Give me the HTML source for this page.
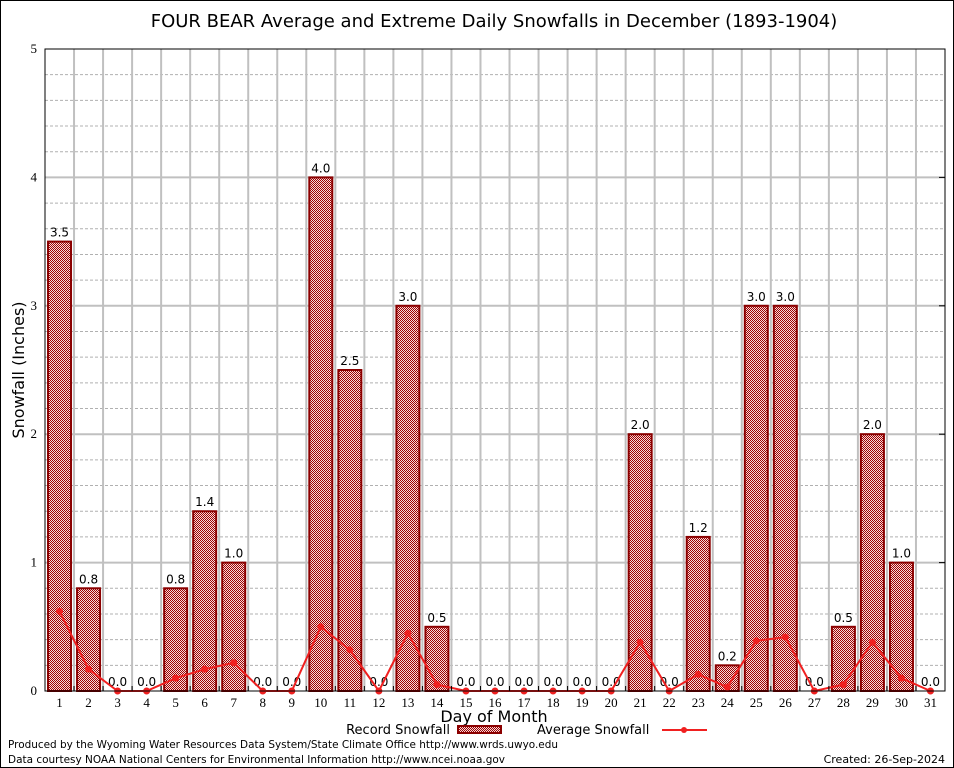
<!DOCTYPE html>
<html><head><meta charset="utf-8"><style>
body{margin:0;background:#fff;}
svg{display:block;font-family:"DejaVu Sans","Liberation Sans",sans-serif;}
</style></head><body>
<svg id="chart" width="954" height="768" viewBox="0 0 954 768">
<defs>
<pattern id="chk" width="2" height="2" patternUnits="userSpaceOnUse">
<rect width="2" height="2" fill="#f4dcdc"/><rect width="1" height="1" fill="#a00000"/><rect x="1" y="1" width="1" height="1" fill="#a00000"/>
</pattern>
</defs>
<rect x="0.5" y="0.5" width="953" height="767" fill="#fff" stroke="#000"/>
<text x="494" y="27" font-size="18" text-anchor="middle">FOUR BEAR Average and Extreme Daily Snowfalls in December (1893-1904)</text>
<g id="grid"></g>
<g id="bars"></g>
<g id="line"></g>
<rect x="45" y="49" width="900" height="642" fill="none" stroke="#000"/>
<g id="axes" font-family="'Liberation Serif',serif" font-size="13"></g>
<text x="24" y="370" font-size="16" text-anchor="middle" transform="rotate(-90 24 370)">Snowfall (Inches)</text>
<text x="494" y="722" font-size="16" text-anchor="middle">Day of Month</text>
<g>
<text x="450" y="734" font-size="13" text-anchor="end">Record Snowfall</text>
<rect x="458" y="726" width="43" height="7" fill="url(#chk)" stroke="#8b0000" stroke-width="2"/>
</g>
<g>
<text x="537" y="734" font-size="13">Average Snowfall</text>
<line x1="662" y1="730" x2="707" y2="730" stroke="#f02020" stroke-width="2"/>
<circle cx="684" cy="730" r="3" fill="#f02020"/>
</g>
<text x="8" y="748" font-size="11" textLength="550" lengthAdjust="spacingAndGlyphs">Produced by the Wyoming Water Resources Data System/State Climate Office http://www.wrds.uwyo.edu</text>
<text x="8" y="763" font-size="11" textLength="497" lengthAdjust="spacingAndGlyphs">Data courtesy NOAA National Centers for Environmental Information http://www.ncei.noaa.gov</text>
<text x="945" y="763" font-size="11" text-anchor="end">Created:  26-Sep-2024</text>
</svg>
<script>
const days=[1,2,3,4,5,6,7,8,9,10,11,12,13,14,15,16,17,18,19,20,21,22,23,24,25,26,27,28,29,30,31];
const recordSnow=[3.5,0.8,0,0,0.8,1.4,1.0,0,0,4.0,2.5,0,3.0,0.5,0,0,0,0,0,0,2.0,0,1.2,0.2,3.0,3.0,0,0.5,2.0,1.0,0];
const avgSnow=[0.62,0.17,0,0,0.1,0.17,0.22,0,0,0.5,0.32,0,0.45,0.05,0,0,0,0,0,0,0.38,0,0.13,0.03,0.39,0.42,0,0.05,0.38,0.1,0];
const yTicks=[0,1,2,3,4,5];
const NS="http://www.w3.org/2000/svg";
const L=45,R=945,T=49,B=691,yMax=5;
const step=(R-L)/days.length;
const xs=d=>L+(d-0.5)*step;
const ys=v=>B-v/yMax*(B-T);
function mk(tag,attrs,parent){const e=document.createElementNS(NS,tag);for(const k in attrs)e.setAttribute(k,attrs[k]);parent.appendChild(e);return e;}
const grid=document.getElementById('grid'),bars=document.getElementById('bars'),line=document.getElementById('line'),axes=document.getElementById('axes');
for(let v=0.2;v<yMax;v+=0.2){
 const major=Math.abs(v-Math.round(v))<1e-6;
 const g=mk('line',{x1:L,x2:R,y1:ys(v),y2:ys(v),stroke:major?'#c0c0c0':'#b0b0b0','stroke-width':major?2:1,'stroke-dasharray':major?'':'3,2'},grid);
 
 
}
for(let i=1;i<days.length;i++){
 const g=mk('line',{x1:L+i*step,x2:L+i*step,y1:T,y2:B,stroke:'#c0c0c0','stroke-width':2},grid);
 
 
}
yTicks.forEach(t=>{
 const tx=mk('text',{x:L-8,y:ys(t)+4,'text-anchor':'end'},axes);tx.textContent=t;
 
 
 mk('line',{x1:R-6,x2:R,y1:ys(t),y2:ys(t),stroke:'#000'},axes);
});
days.forEach((d,i)=>{
 const x=xs(d),v=recordSnow[i];
 if(v>0){
  const r=mk('rect',{x:x-11.5,y:ys(v),width:23,height:B-ys(v),fill:'url(#chk)',stroke:'#8b0000','stroke-width':2},bars);
  
  
 }
 const lb=mk('text',{x:x,y:ys(v)-5,'text-anchor':'middle','font-size':12},bars);lb.textContent=v.toFixed(1);
 
 
 const tl=mk('text',{x:x,y:B+16,'text-anchor':'middle'},axes);tl.textContent=d;
 
 
 mk('line',{x1:L+(i+1)*step,x2:L+(i+1)*step,y1:B,y2:B-5,stroke:'#000'},axes);
});
const pts=days.map((d,i)=>xs(d)+','+ys(avgSnow[i])).join(' ');
const pl=mk('polyline',{points:pts,fill:'none',stroke:'#f02020','stroke-width':2},line);


days.forEach((d,i)=>{
 const c=mk('circle',{cx:xs(d),cy:ys(avgSnow[i]),r:3.5,fill:'#f02020'},line);
 
 
});
</script>
</body></html>
